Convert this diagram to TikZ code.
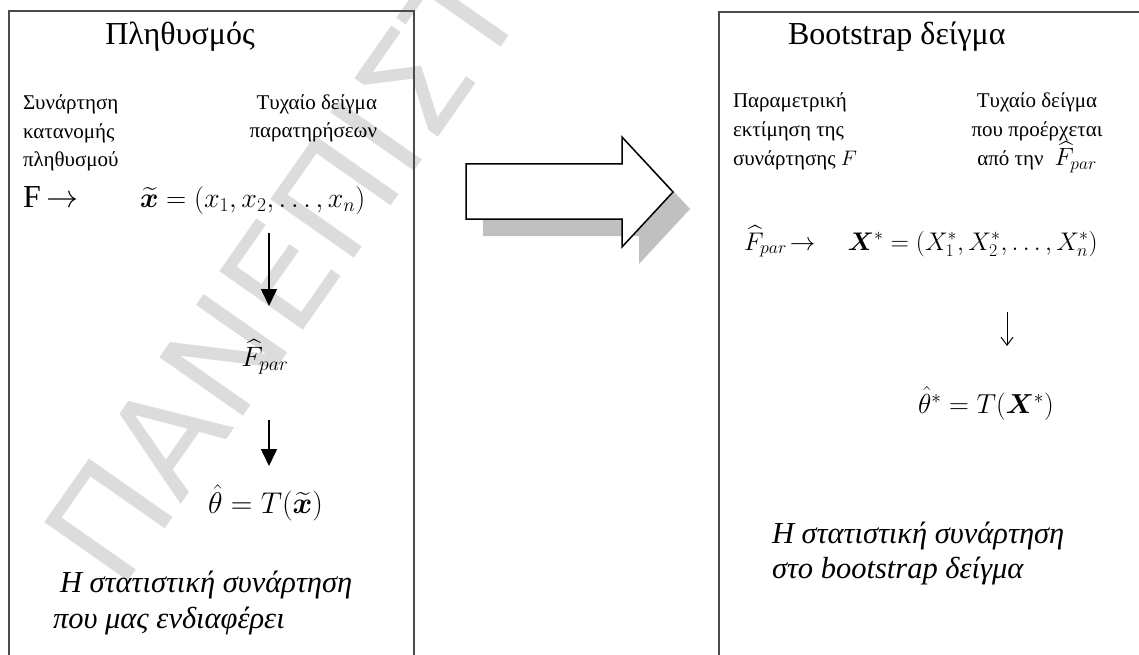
\RequirePackage{fix-cm}
\documentclass[tikz,border=0pt]{standalone}
\usepackage{amsmath,bm}
\usepackage{fontspec}
\setmainfont{Liberation Serif}
\newfontfamily\wmfont{DejaVu Sans}
\usetikzlibrary{arrows.meta}
\definecolor{wmgray}{HTML}{DCDCDC}
\definecolor{shadowgray}{HTML}{C0C0C0}
\definecolor{boxgray}{HTML}{4A4A4A}
\begin{document}
\begin{tikzpicture}[x=1pt,y=-1pt,
  every node/.style={inner sep=0pt, outer sep=0pt},
  ttl/.style={font=\fontsize{32}{36}\selectfont},
  lbl/.style={font=\fontsize{21}{28.5}\selectfont},
  mth/.style={font=\fontsize{28}{32}\selectfont},
  mthb/.style={font=\fontsize{30}{34}\selectfont},
  mthr/.style={font=\fontsize{25.5}{30}\selectfont},
  mthrb/.style={font=\fontsize{27.5}{32}\selectfont},
  itl/.style={font=\fontsize{30.5}{34}\selectfont\itshape},
  wm/.style={font=\fontsize{140}{140}\selectfont\wmfont, text=wmgray},
  boxline/.style={draw=boxgray, line width=1.5pt},
  bigdown/.style={line width=1.6pt, -{Triangle[length=17pt,width=16pt]}},
  thindown/.style={line width=1pt, -{Straight Barb[length=8pt,width=12pt]}},
  blockarrow/.style={draw=black, line width=1.5pt, fill=white, line join=miter},
  blockshadow/.style={fill=shadowgray}
]
\useasboundingbox (0,0) rectangle (1139,655);
\clip (0,0) rectangle (1139,655);

% watermark
\node[wm, rotate=55, anchor=base west] (wmark) at (120,592) {ΠΑΝΕΠΙΣΤΗΜΙΟ};

% boxes
\draw[boxline] (9,680) -- (9,11) -- (414,11) -- (414,680);
\draw[boxline] (719,680) -- (719,12) -- (1150,12);

% left panel
\node[ttl, anchor=base] (t1) at (180,45) {Πληθυσμός};
\node[lbl, align=left, anchor=base west] (l1) at (23,167) {Συνάρτηση\\κατανομής\\πληθυσμού};
\node[lbl, align=right, anchor=base east] (r1) at (377,138) {Τυχαίο δείγμα\\παρατηρήσεων};
\node[ttl, anchor=base west] (F) at (23,207) {F\,$\rightarrow$};
\node[mth, anchor=base west] (xt) at (140,207) {$\widetilde{\bm{x}} = (x_1, x_2, \dots, x_n)$};
\node[mth, anchor=base] (fp) at (265,366) {$\widehat{F}_{par}$};
\node[mthb, anchor=base west] (th) at (208,513) {$\hat{\theta} = T(\widetilde{\bm{x}})$};
\node[itl, anchor=base west] (s1) at (60,592) {Η στατιστική συνάρτηση};
\node[itl, anchor=base west] (s2) at (53,628) {που μας ενδιαφέρει};

\coordinate (a1s) at (269,233);
\coordinate (a1e) at (269,306);
\coordinate (a2s) at (269,420);
\coordinate (a2e) at (269,466);
\draw[bigdown] (a1s) -- (a1e);
\draw[bigdown] (a2s) -- (a2e);

% block arrow with shadow
\fill[blockshadow, shift={(17,17)}] (466,164) -- (622,164) -- (622,137) -- (673,192) -- (622,247) -- (622,219) -- (466,219) -- cycle;
\draw[blockarrow] (466,164) -- (622,164) -- (622,137) -- (673,192) -- (622,247) -- (622,219) -- (466,219) -- cycle;

% right panel
\node[ttl, anchor=base west] (t2) at (788,45) {Bootstrap δείγμα};
\node[lbl, align=left, anchor=base west] (l2) at (733,165) {Παραμετρική\\εκτίμηση της\\συνάρτησης $F$};
\node[lbl, align=center, anchor=base] (r2) at (1037,166) {Τυχαίο δείγμα\\που προέρχεται\\από την \;{\fontsize{25}{28.5}\selectfont$\widehat{F}_{par}$}};
\node[mthr, anchor=base west] (xs) at (744,250) {$\widehat{F}_{par}\!\rightarrow\quad \bm{X}^{*} = (X_1^{*}, X_2^{*}, \dots, X_n^{*})$};
\coordinate (a3s) at (1007,312);
\coordinate (a3e) at (1007,346);
\draw[thindown] (a3s) -- (a3e);
\node[mthrb, anchor=base west] (ths) at (918,413) {$\hat{\theta}^{*} = T(\bm{X}^{*})$};
\node[itl, anchor=base west] (s3) at (772,543) {Η στατιστική συνάρτηση};
\node[itl, anchor=base west] (s4) at (772,578) {στο bootstrap δείγμα};
\end{tikzpicture}
\end{document}
